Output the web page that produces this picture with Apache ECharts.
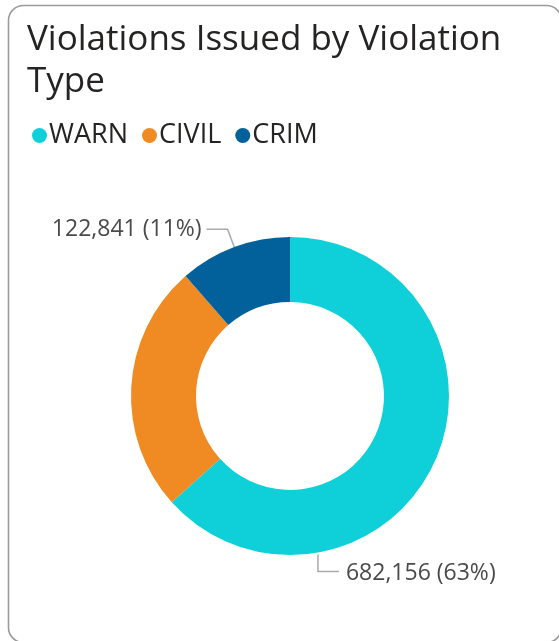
<!DOCTYPE html>
<html><head><meta charset="utf-8">
<script src="https://cdn.jsdelivr.net/npm/echarts@6/dist/echarts.min.js"></script>
<style>html,body{margin:0;padding:0;background:#fff;} #c{width:559px;height:641px;}</style>
</head><body><div id="c"></div>
<script>
// ---- data ----
const categories = ['WARN', 'CIVIL', 'CRIM'];
const values = [682156, 272000, 122841];
const showLabel = [true, false, true];
const colors = ['#0FD0D9', '#F08B23', '#02609A'];
const titleText = 'Violations Issued by Violation\nType';

// ---- layout / style ----
const FONT = '"Open Sans", "Segoe UI", sans-serif';
const CENTER = [290, 396];
const R_OUT = 159, R_IN = 94;
const WARN_LABEL_ANGLE = 170; // degrees clockwise from top

const chart = echarts.init(document.getElementById('c'), null, {renderer: 'canvas'});

const option = {
  animation: false,
  graphic: [{
    type: 'rect', z: -10, silent: true,
    shape: {x: 8.5, y: 5.5, width: 553, height: 637, r: 15},
    style: {fill: '#fff', stroke: '#9a9a9a', lineWidth: 1.6}
  }],
  title: {
    text: titleText, left: 22, top: 14,
    textStyle: {fontFamily: FONT, fontSize: 35, fontWeight: 'normal', color: '#252423', lineHeight: 42}
  },
  legend: {
    data: categories, left: 27, top: 117, icon: 'circle',
    itemWidth: 15, itemHeight: 15, itemGap: 14,
    textStyle: {fontFamily: FONT, fontSize: 27, color: '#252423', padding: [0, 0, 0, -3]}
  },
  series: [{
    type: 'pie', center: CENTER, radius: [R_IN, R_OUT], startAngle: 90, clockwise: true,
    avoidLabelOverlap: false,
    data: categories.map((c, i) => ({
      name: c, value: values[i], itemStyle: {color: colors[i]},
      label: {show: showLabel[i]}, labelLine: {show: showLabel[i]}
    })),
    label: {
      position: 'outside',
      formatter: p => p.value.toLocaleString('en-US') + ' (' + Math.round(p.percent) + '%)',
      fontFamily: FONT, fontSize: 23, color: '#4a4a4a', distanceToLabelLine: 5
    },
    labelLine: {length: 19, length2: 21, lineStyle: {color: '#aaa', width: 1.5}},
    labelLayout: function (params) {
      if (params.dataIndex !== 0) return {};
      const a = WARN_LABEL_ANGLE * Math.PI / 180;
      const sx = CENTER[0] + (R_OUT + 2) * Math.sin(a);
      const sy = CENTER[1] - (R_OUT + 2) * Math.cos(a);
      const ey = sy + 17;
      const ex = sx + 21;
      return {x: ex + 7, y: ey + 2, align: 'left', verticalAlign: 'middle',
              labelLinePoints: [[sx, sy], [sx, ey], [ex, ey]]};
    }
  }]
};
chart.setOption(option);
</script></body></html>
